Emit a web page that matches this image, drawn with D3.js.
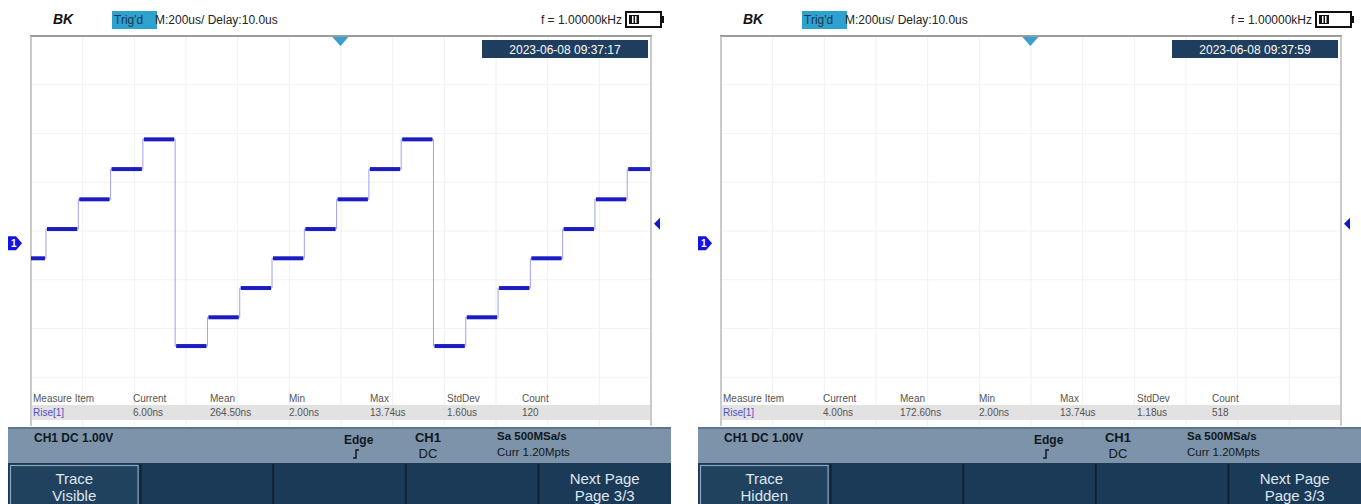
<!DOCTYPE html>
<html>
<head>
<meta charset="utf-8">
<script src="https://cdn.jsdelivr.net/npm/d3@7"></script>
<style>
  html, body { margin: 0; padding: 0; background: #ffffff; }
  svg { display: block; }
  text { font-family: "Liberation Sans", Arial, sans-serif; }
</style>
</head>
<body>
<svg id="chart" width="1361" height="504"></svg>
<script>
// ---------- data ----------
const stepTimesUs = [0, 58, 183, 308, 433, 558, 683, 808, 933, 1058, 1183, 1308, 1433, 1558, 1683, 1808, 1933, 2058, 2183, 2308];
const stepVoltsLeft = [-0.31, 0.29, 0.90, 1.52, 2.13, -2.11, -1.52, -0.92, -0.31, 0.29, 0.90, 1.52, 2.13, -2.11, -1.52, -0.92, -0.31, 0.29, 0.90, 1.52];
const screenEndUs = 2400;
const timeGridUs = [0, 200, 400, 600, 800, 1000, 1200, 1400, 1600, 1800, 2000, 2200, 2400];
const voltGrid = [-3.75, -2.75, -1.75, -0.75, 0.25, 1.25, 2.25, 3.25, 4.25];
const measureHeaders = ["Measure Item", "Current", "Mean", "Min", "Max", "StdDev", "Count"];
const measureValuesLeft = ["Rise[1]", "6.00ns", "264.50ns", "2.00ns", "13.74us", "1.60us", "120"];
const measureValuesRight = ["Rise[1]", "4.00ns", "172.60ns", "2.00ns", "13.74us", "1.18us", "518"];
const timestamps = ["2023-06-08 09:37:17", "2023-06-08 09:37:59"];
const traceButton = [["Trace", "Visible"], ["Trace", "Hidden"]];
const headerText = "M:200us/ Delay:10.0us";
const freqText = "f = 1.00000kHz";
const chText = "CH1 DC 1.00V";
const sampleTexts = ["Sa 500MSa/s", "Curr 1.20Mpts"];
const trigLevelV = 0.40;
const trigPosUs = 1190;

// ---------- drawing ----------
const svg = d3.select("#chart");
const panelOffsets = [0, 690];

function drawPanel(idx) {
  const ox = panelOffsets[idx];
  const g = svg.append("g").attr("transform", `translate(${ox},0)`);
  const x = d3.scaleLinear().domain([0, screenEndUs]).range([31, 651]);
  const y = d3.scaleLinear().domain([-3.75, 4.25]).range([426, 36]);

  // grid
  g.append("g").selectAll("line").data(timeGridUs.slice(1, -1)).join("line")
    .attr("x1", d => x(d)).attr("x2", d => x(d)).attr("y1", 37).attr("y2", 426)
    .attr("stroke", "#f0f0f0").attr("stroke-width", 1);
  g.append("g").selectAll("line").data(voltGrid.slice(1, -1)).join("line")
    .attr("x1", 31).attr("x2", 651).attr("y1", d => y(d)).attr("y2", d => y(d))
    .attr("stroke", "#f3f3f3").attr("stroke-width", 1);

  // frame
  g.append("line").attr("x1", 30).attr("x2", 652).attr("y1", 36).attr("y2", 36)
    .attr("stroke", "#7a7a7a").attr("stroke-width", 1.5);
  g.append("line").attr("x1", x(0)).attr("x2", x(0)).attr("y1", 36).attr("y2", 426)
    .attr("stroke", "#b8b8b8").attr("stroke-width", 1.5);
  g.append("line").attr("x1", x(screenEndUs)).attr("x2", x(screenEndUs)).attr("y1", 36).attr("y2", 426)
    .attr("stroke", "#b8b8b8").attr("stroke-width", 1.5);

  // header
  g.append("text").attr("x", 53).attr("y", 24).attr("font-size", 14).attr("font-weight", "bold")
    .attr("font-style", "italic").attr("fill", "#111").text("BK");
  g.append("rect").attr("x", 112).attr("y", 11).attr("width", 45).attr("height", 18).attr("fill", "#2ea2cf");
  g.append("text").attr("x", 114).attr("y", 24).attr("font-size", 12).attr("fill", "#1a3550").text("Trig'd");
  g.append("text").attr("x", 155).attr("y", 24).attr("font-size", 12).attr("fill", "#222").text(headerText);
  g.append("text").attr("x", 622).attr("y", 24).attr("font-size", 12).attr("fill", "#222")
    .attr("text-anchor", "end").text(freqText);
  // battery
  g.append("rect").attr("x", 626).attr("y", 12).attr("width", 35).attr("height", 15)
    .attr("fill", "#fff").attr("stroke", "#111").attr("stroke-width", 2);
  g.append("rect").attr("x", 661).attr("y", 16).attr("width", 3).attr("height", 7).attr("fill", "#111");
  g.append("rect").attr("x", 629).attr("y", 15).attr("width", 10).attr("height", 9).attr("fill", "#111");
  g.append("rect").attr("x", 632).attr("y", 16).attr("width", 1.5).attr("height", 7).attr("fill", "#fff");
  g.append("rect").attr("x", 635).attr("y", 16).attr("width", 1.5).attr("height", 7).attr("fill", "#fff");

  // trigger position marker
  const tx = x(trigPosUs) + 2;
  g.append("path").attr("d", `M${tx - 8},37 L${tx + 8},37 L${tx},46 Z`).attr("fill", "#3a9fd0");

  // timestamp
  g.append("rect").attr("x", 482).attr("y", 40).attr("width", 166).attr("height", 18).attr("fill", "#1f3d5e");
  g.append("text").attr("x", 565).attr("y", 53.5).attr("font-size", 12).attr("fill", "#ffffff")
    .attr("text-anchor", "middle").text(timestamps[idx]);

  // ground marker
  const gy = y(0);
  g.append("path").attr("d", `M8,${gy - 7} L16,${gy - 7} L22,${gy} L16,${gy + 7} L8,${gy + 7} Z`).attr("fill", "#1414e0");
  g.append("text").attr("x", 11).attr("y", gy + 4).attr("font-size", 10).attr("font-weight", "bold")
    .attr("fill", "#fff").text("1");

  // trigger level marker
  const ty = y(trigLevelV);
  g.append("path").attr("d", `M654,${ty} L660,${ty - 6} L660,${ty + 6} Z`).attr("fill", "#1414c8");

  // waveform
  if (idx === 0) {
    const pts = stepTimesUs.map((t, i) => [t, stepVoltsLeft[i]]);
    pts.push([screenEndUs, stepVoltsLeft[stepVoltsLeft.length - 1]]);
    const line = d3.line().x(d => x(d[0])).y(d => y(d[1])).curve(d3.curveStepAfter);
    g.append("path").attr("d", line(pts)).attr("fill", "none")
      .attr("stroke", "#8080ea").attr("stroke-width", 1).attr("opacity", 0.75);
    const segs = stepTimesUs.map((t, i) => ({ t0: t, t1: i + 1 < stepTimesUs.length ? stepTimesUs[i + 1] : screenEndUs, v: stepVoltsLeft[i] }));
    g.append("g").selectAll("rect").data(segs).join("rect")
      .attr("x", d => x(d.t0) + (d.t0 === 0 ? 0 : 1)).attr("width", d => x(d.t1) - x(d.t0) - (d.t0 === 0 ? 1 : 2))
      .attr("y", d => y(d.v) - 2).attr("height", 4)
      .attr("fill", "#1c1cc4");
  }

  // measurement table
  const colX = [33, 133, 210, 289, 370, 447, 522];
  g.append("rect").attr("x", 32).attr("y", 405).attr("width", 618).attr("height", 15).attr("fill", "#e2e2e2");
  g.append("g").selectAll("text").data(measureHeaders).join("text")
    .attr("x", (d, i) => colX[i]).attr("y", 402).attr("font-size", 10).attr("fill", "#555").text(d => d);
  const vals = idx === 0 ? measureValuesLeft : measureValuesRight;
  g.append("g").selectAll("text").data(vals).join("text")
    .attr("x", (d, i) => colX[i]).attr("y", 416).attr("font-size", 10)
    .attr("fill", (d, i) => i === 0 ? "#5050c8" : "#555").text(d => d);

  // status bar
  g.append("rect").attr("x", 8).attr("y", 427).attr("width", 663).attr("height", 36).attr("fill", "#7d93aa");
  g.append("rect").attr("x", 8).attr("y", 427).attr("width", 663).attr("height", 2).attr("fill", "#5d7590");
  g.append("text").attr("x", 34).attr("y", 442).attr("font-size", 12).attr("font-weight", "bold")
    .attr("fill", "#101820").text(chText);
  g.append("text").attr("x", 344).attr("y", 444).attr("font-size", 12).attr("font-weight", "bold")
    .attr("fill", "#101820").text("Edge");
  g.append("path").attr("d", "M353,458 L356,458 L356,450 L359,450").attr("fill", "none")
    .attr("stroke", "#101820").attr("stroke-width", 1.5);
  g.append("text").attr("x", 428).attr("y", 442).attr("font-size", 13).attr("font-weight", "bold")
    .attr("fill", "#101820").attr("text-anchor", "middle").text("CH1");
  g.append("text").attr("x", 428).attr("y", 458).attr("font-size", 13)
    .attr("fill", "#101820").attr("text-anchor", "middle").text("DC");
  g.append("text").attr("x", 497).attr("y", 440).attr("font-size", 11.5).attr("font-weight", "bold")
    .attr("fill", "#101820").text(sampleTexts[0]);
  g.append("text").attr("x", 497).attr("y", 456).attr("font-size", 11.5)
    .attr("fill", "#101820").text(sampleTexts[1]);

  // softkey bar
  g.append("rect").attr("x", 8).attr("y", 463).attr("width", 663).attr("height", 41).attr("fill", "#1b3a58");
  const bx = d3.scaleLinear().domain([0, 5]).range([8, 671]);
  g.append("g").selectAll("line").data([1, 2, 3, 4]).join("line")
    .attr("x1", d => bx(d)).attr("x2", d => bx(d)).attr("y1", 464).attr("y2", 504)
    .attr("stroke", "#0d2236").attr("stroke-width", 2);
  g.append("rect").attr("x", 10.5).attr("y", 465.5).attr("width", bx(1) - 13).attr("height", 40)
    .attr("fill", "#20425f").attr("stroke", "#8fa6bd").attr("stroke-width", 1.2);
  const labels = [traceButton[idx], null, null, null, ["Next Page", "Page 3/3"]];
  labels.forEach((lb, i) => {
    if (!lb) return;
    const cx = (bx(i) + bx(i + 1)) / 2;
    g.append("text").attr("x", cx).attr("y", 484).attr("font-size", 15).attr("fill", "#dfe7ef")
      .attr("text-anchor", "middle").text(lb[0]);
    g.append("text").attr("x", cx).attr("y", 501).attr("font-size", 15).attr("fill", "#dfe7ef")
      .attr("text-anchor", "middle").text(lb[1]);
  });
}

panelOffsets.forEach((o, i) => drawPanel(i));
</script>
</body>
</html>
